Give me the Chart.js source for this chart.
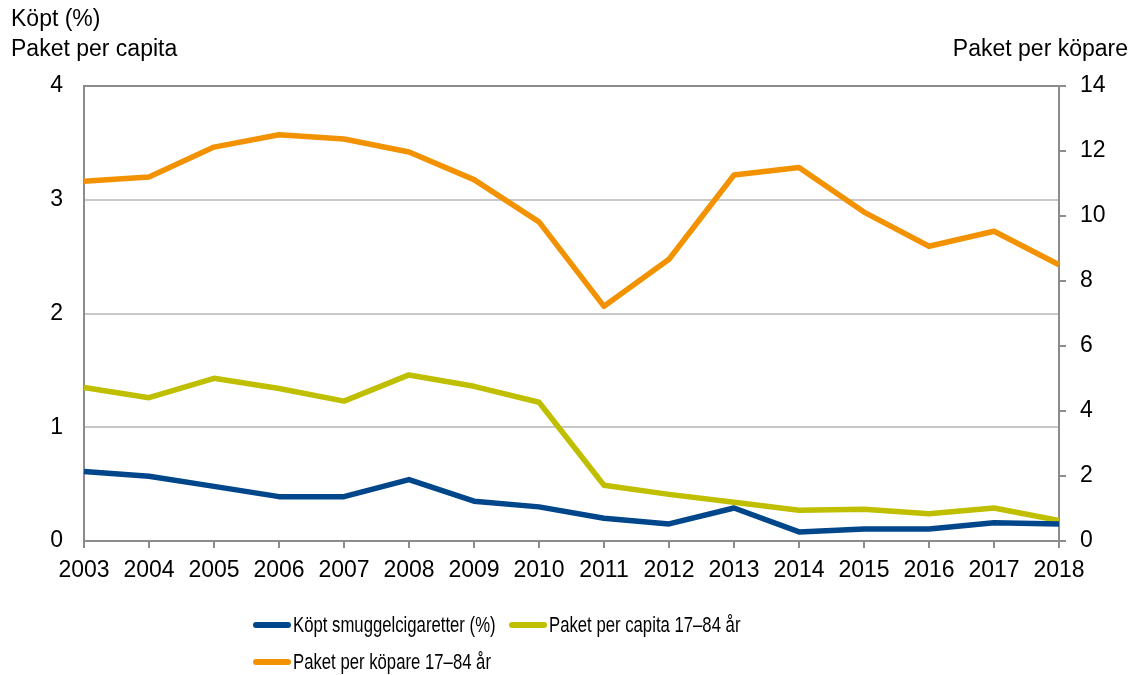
<!DOCTYPE html>
<html>
<head>
<meta charset="utf-8">
<script src="https://cdn.jsdelivr.net/npm/chart.js@4.4.1/dist/chart.umd.min.js"></script>
<style>
  html, body { margin: 0; padding: 0; background: #fff; }
  #wrap { position: relative; width: 1131px; height: 675px; }
  #legend { position: absolute; left: 253px; top: 612px; font-family: "Liberation Sans", Arial, sans-serif; font-size: 22px; color: #000; }
  .item { position: absolute; white-space: nowrap; display: flex; align-items: center; }
  .swatch { display: inline-block; width: 38px; height: 6px; border-radius: 3px; margin-right: 2px; }
  .txt { display: inline-block; transform: scaleX(0.76); transform-origin: left center; }
</style>
</head>
<body>
<div id="wrap">
  <canvas id="chart" width="1131" height="675"></canvas>
  <div id="legend"></div>
</div>
<script>
// --- data ---
const years = ['2003', '2004', '2005', '2006', '2007', '2008', '2009', '2010',
               '2011', '2012', '2013', '2014', '2015', '2016', '2017', '2018'];

// left axis
const smuggel = [0.61, 0.57, 0.48, 0.39, 0.39, 0.54, 0.35, 0.30,
                 0.20, 0.15, 0.29, 0.08, 0.105, 0.105, 0.16, 0.15];
const perCapita = [1.35, 1.26, 1.43, 1.34, 1.23, 1.46, 1.36, 1.22,
                   0.49, 0.41, 0.34, 0.27, 0.28, 0.24, 0.29, 0.18];
// right axis
const perKopare = [11.07, 11.2, 12.12, 12.5, 12.37, 11.97, 11.12, 9.82,
                   7.22, 8.67, 11.26, 11.49, 10.12, 9.07, 9.53, 8.5];

const labels = ['Köpt smuggelcigaretter (%)', 'Paket per capita 17–84 år', 'Paket per köpare 17–84 år'];
const colors = ['#00468B', '#BFBF00', '#F39200'];

const axisGrey = '#8C8C8C';
const gridGrey = '#C8C8C8';
const tickFont = { family: '"Liberation Sans", Arial, sans-serif', size: 23 };

// axis titles drawn on the canvas
const titlesPlugin = {
    id: 'titles',
    afterDraw(chart) {
        const ctx = chart.ctx;
        ctx.save();
        ctx.font = '23px "Liberation Sans", Arial, sans-serif';
        ctx.fillStyle = '#000';
        ctx.textBaseline = 'middle';
        ctx.textAlign = 'left';
        ctx.fillText('Köpt (%)', 11, 20);
        ctx.fillText('Paket per capita', 11, 50);
        ctx.textAlign = 'right';
        ctx.fillText('Paket per köpare', 1128, 50);
        ctx.restore();
    }
};

const ctx = document.getElementById('chart').getContext('2d');
const chart = new Chart(ctx, {
    type: 'line',
    data: {
        labels: years,
        datasets: [
            { label: labels[0], data: smuggel, borderColor: colors[0], yAxisID: 'y' },
            { label: labels[1], data: perCapita, borderColor: colors[1], yAxisID: 'y' },
            { label: labels[2], data: perKopare, borderColor: colors[2], yAxisID: 'y2' }
        ]
    },
    options: {
        responsive: false,
        animation: false,
        layout: { padding: { top: 86, left: 0, right: 0, bottom: 0 } },
        elements: {
            line: { borderWidth: 5.5, tension: 0, borderCapStyle: 'butt', borderJoinStyle: 'round' },
            point: { radius: 0 }
        },
        plugins: {
            legend: { display: false },
            tooltip: { enabled: false }
        },
        scales: {
            x: {
                offset: false,
                grid: { drawOnChartArea: false, drawTicks: true, tickLength: 7, color: axisGrey, lineWidth: 2 },
                border: { color: axisGrey, width: 2 },
                ticks: { font: tickFont, color: '#000', padding: 9, maxRotation: 0, autoSkip: false },
                afterFit(scale) { scale.height = 134; }
            },
            y: {
                position: 'left',
                min: 0, max: 4,
                grid: {
                    drawTicks: false,
                    lineWidth: 2,
                    color: (c) => c.tick && c.tick.value === 4 ? axisGrey : (c.tick && c.tick.value === 0 ? 'rgba(0,0,0,0)' : gridGrey)
                },
                border: { color: axisGrey, width: 2 },
                ticks: { stepSize: 1, font: tickFont, color: '#000', padding: 21 },
                afterFit(scale) { scale.width = 84; }
            },
            y2: {
                position: 'right',
                min: 0, max: 14,
                grid: { drawOnChartArea: false, drawTicks: true, tickLength: 7, color: axisGrey, lineWidth: 2 },
                border: { color: axisGrey, width: 2 },
                ticks: { stepSize: 2, font: tickFont, color: '#000', padding: 14 },
                afterFit(scale) { scale.width = 72; }
            }
        }
    },
    plugins: [titlesPlugin]
});

// --- HTML legend, laid out like the reference ---
const legendPos = [[0, 0], [256, 0], [0, 37]];
const legend = document.getElementById('legend');
labels.forEach(function (text, i) {
    const item = document.createElement('div');
    item.className = 'item';
    item.style.left = legendPos[i][0] + 'px';
    item.style.top = legendPos[i][1] + 'px';
    item.innerHTML = '<span class="swatch" style="background:' + colors[i] + '"></span><span class="txt">' + text + '</span>';
    legend.appendChild(item);
});
</script>
</body>
</html>
